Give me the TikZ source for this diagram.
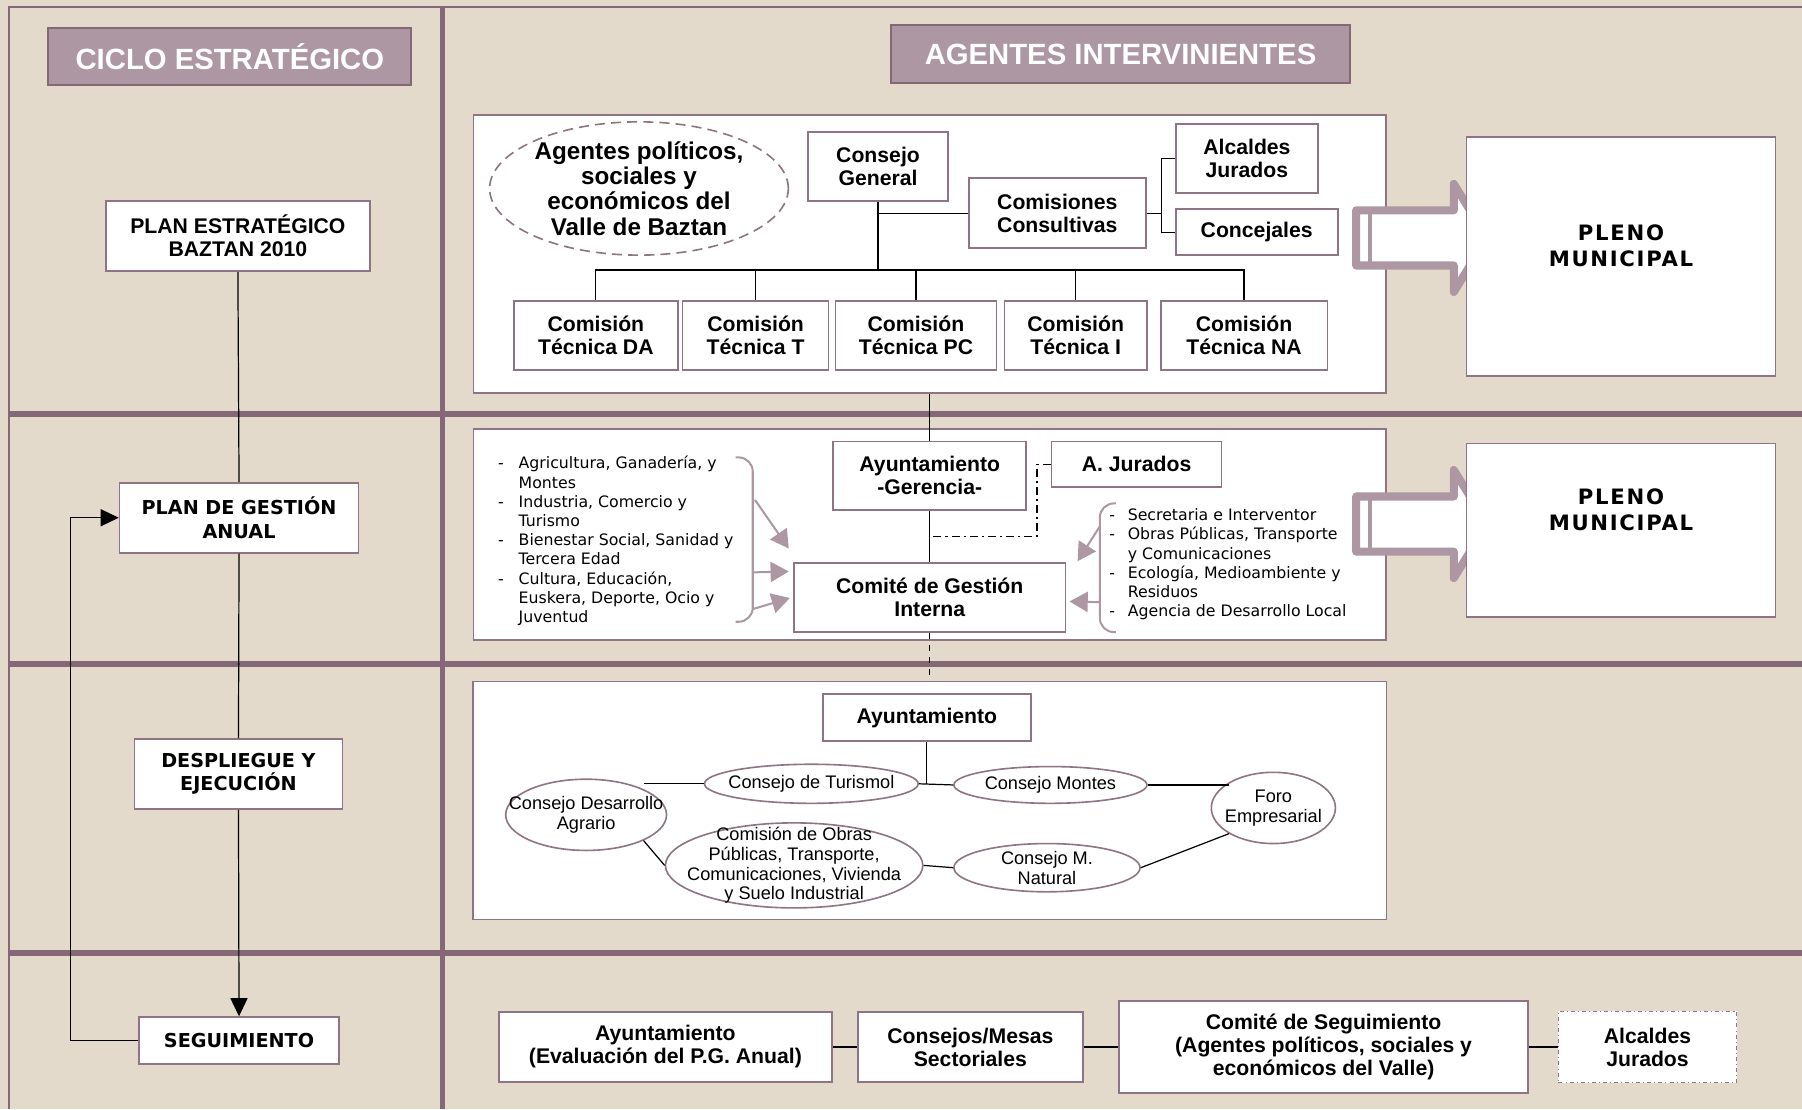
\documentclass[tikz,border=0pt]{standalone}
\usepackage{fontspec}
\setmainfont{Liberation Sans}
\newfontfamily\verdana{DejaVu Sans}
\newfontfamily\verdanaancha[LetterSpace=8]{DejaVu Sans}
\usepackage{tikz}
\usetikzlibrary{positioning, shapes.geometric, arrows.meta, calc}
\definecolor{fondo}{HTML}{E4DACB}
\definecolor{malva}{HTML}{846878}
\definecolor{malvaclara}{HTML}{AD97A2}
\definecolor{bordecaja}{HTML}{8E7484}
\tikzset{
	divider/.style={draw=malva, line width=2.8pt},
	conn/.style={draw=black, line width=0.6pt},
	arrow/.style={conn, -{Triangle[length=9pt, width=8.5pt]}},
	softarrow/.style={draw=malvaclara, line width=1pt, -{Triangle[length=9pt, width=10pt]}},
	bracket/.style={draw=malvaclara, line width=1pt, rounded corners=7pt}
}

\begin{document}
\begin{tikzpicture}[
		x=0.02cm, y=-0.02cm,
		box/.style={draw=bordecaja, fill=white, line width=0.8pt, align=center, inner sep=1pt, font=\fontsize{10.5}{11.4}\selectfont\bfseries},
		stagebox/.style={box, font=\verdana\fontsize{9.5}{11.4}\selectfont\bfseries},
		headbox/.style={draw=malva, fill=malvaclara, line width=1pt, text=white, minimum height=1cm, font=\fontsize{14.5}{17}\selectfont\bfseries},
		panel/.style={draw=bordecaja, fill=white, line width=0.8pt, inner sep=0pt},
		oval/.style={ellipse, draw=bordecaja, fill=white, line width=0.8pt, inner sep=-30pt, align=center, font=\fontsize{9}{9.8}\selectfont},
		plenotext/.style={align=center, font=\verdanaancha\fontsize{10.5}{12.8}\selectfont\bfseries},
		listtext/.style={anchor=north west, inner sep=0pt, font=\verdana\fontsize{7.8}{9.5}\selectfont},
		bigarrow/.style={draw=malvaclara, fill=white, line width=4pt, line join=round},
		dashdot/.style={conn, dash pattern=on 4pt off 2pt on 1pt off 2pt}
		]
		\useasboundingbox (0,0) rectangle (1568,965);
		\fill[fondo] (0,0) rectangle (1568,965);
		
		% marco y divisiones
		\draw[malva, line width=1.2pt] (8,965) -- (8,6) -- (1568,6);
		\draw[divider] (385,6) -- (385,965);
		\foreach \y in {360,578,829}
		\draw[divider] (8,\y) -- (1568,\y);
		
		\node[headbox, minimum width=6.32cm] (ciclo) at (200,49) {CICLO ESTRATÉGICO};
		\node[headbox, minimum width=8cm] (agint) at (975,47) {AGENTES INTERVINIENTES};
		
		% ciclo estrategico
		\node[box, minimum width=4.6cm, minimum height=1.22cm] (pe) at (207,205.5) {PLAN ESTRATÉGICO\\ BAZTAN 2010};
		\node[stagebox, minimum width=4.16cm, minimum height=1.22cm] (pga) at (208,450.5) {PLAN DE GESTIÓN\\ANUAL};
		\node[stagebox, minimum width=3.62cm, minimum height=1.22cm] (dye) at (207.5,673.5) {DESPLIEGUE Y\\ EJECUCIÓN};
		\node[stagebox, minimum width=3.48cm, minimum height=0.82cm] (seg) at (208,905.5) {SEGUIMIENTO};
		
		\draw[conn] (pe.south) -- (pga.north);
		\draw[conn] (pga.south) -- (dye.north);
		\draw[arrow] (dye.south) -- (seg.north);
		\draw[arrow] (seg.west) -- ++(-59,0) |- (pga.west);
		
		% paneles
		\node[panel, minimum width=15.88cm, minimum height=4.84cm] (panelA) at (809,221) {};
		\node[panel, minimum width=15.88cm, minimum height=3.68cm] (panelB) at (809,465) {};
		\node[panel, minimum width=15.9cm, minimum height=4.14cm] (panelC) at (809,696.5) {};
		
		% organos
		\node[oval, dash pattern=on 5pt off 3pt, minimum width=5.2cm, minimum height=2.32cm, font=\fontsize{12}{12.6}\selectfont\bfseries] (agentes) at (556,164) {Agentes políticos,\\sociales y\\económicos del\\Valle de Baztan};
		\node[box, minimum width=2.44cm, minimum height=1.2cm] (cg) at (764,145) {Consejo\\General};
		\node[box, minimum width=3.08cm, minimum height=1.22cm] (cc) at (920,185.5) {Comisiones\\Consultivas};
		\node[box, minimum width=2.48cm, minimum height=1.2cm] (alc) at (1085,138) {Alcaldes\\Jurados};
		\node[box, minimum width=2.82cm, minimum height=0.8cm] (conc) at (1093.5,202) {Concejales};
		
		\node[box, minimum width=2.86cm, minimum height=1.2cm] (ctda) at (518.5,292) {Comisión\\Técnica DA};
		\node[box, minimum width=2.54cm, minimum height=1.2cm] (ctt) at (657.5,292) {Comisión\\Técnica T};
		\node[box, minimum width=2.8cm, minimum height=1.2cm] (ctpc) at (797,292) {Comisión\\Técnica PC};
		\node[box, minimum width=2.48cm, minimum height=1.2cm] (cti) at (936,292) {Comisión\\Técnica I};
		\node[box, minimum width=2.9cm, minimum height=1.2cm] (ctna) at (1082.5,292) {Comisión\\Técnica NA};
		
		\coordinate (bus) at (764,235);
		\draw[conn] (cg.south) -- (bus);
		\draw[conn] (ctda.north) |- (bus) -| (ctna.north);
		\foreach \c in {ctt, ctpc, cti}
		\draw[conn] (\c.north) -- (\c.north |- bus);
		\draw[conn] (cc.west) -- (cc.west -| cg.south);
		\draw[conn] (cc.east) -- ++(13,0) coordinate (rama) |- (alc.west);
		\draw[conn] (rama) |- (conc.west);
		
		% gestion anual
		\node[box, minimum width=3.36cm, minimum height=1.2cm] (ayg) at (809,414) {Ayuntamiento\\-Gerencia-};
		\node[box, minimum width=2.96cm, minimum height=0.8cm] (ajur) at (989,404) {A. Jurados};
		\node[box, minimum width=4.72cm, minimum height=1.2cm] (cgi) at (809,520) {Comité de Gestión\\Interna};
		
		\draw[conn] (panelA.south) -- (ayg.north);
		\draw[conn] (ayg.south) -- (cgi.north);
		\draw[dashdot] (ajur.west) -- ++(-12,0) |- ($(ayg.south)!0.5!(cgi.north)$);
		
		\node[listtext] (listaizq) at (433,396) {\begin{tabular}{@{}p{0.36cm}@{}l@{}}
				-& Agricultura, Ganadería, y\\ & Montes\\
				-& Industria, Comercio y\\ & Turismo\\
				-& Bienestar Social, Sanidad y\\ & Tercera Edad\\
				-& Cultura, Educación,\\ & Euskera, Deporte, Ocio y\\ & Juventud
		\end{tabular}};
		\node[listtext] (listader) at (965,441) {\begin{tabular}{@{}p{0.32cm}@{}l@{}}
				-& Secretaria e Interventor\\
				-& Obras Públicas, Transporte\\ & y Comunicaciones\\
				-& Ecología, Medioambiente y\\ & Residuos\\
				-& Agencia de Desarrollo Local
		\end{tabular}};
		
		\draw[bracket] (640,398) -| (655,470) |- (640,541);
		\draw[bracket] (971,438) -| (957,494) |- (971,550);
		\coordinate (bi1) at (657,435);
		\coordinate (bi2) at (656,498);
		\coordinate (bi3) at (655,530);
		\coordinate (bd1) at (957,458);
		\coordinate (bd2) at (957,524);
		\draw[softarrow] (bi1) -- ([shift={(-4,-12)}]cgi.north west);
		\draw[softarrow] (bi2) -- ([shift={(-4,8)}]cgi.north west);
		\draw[softarrow] (bi3) -- ([shift={(-3,31)}]cgi.north west);
		\draw[softarrow] (bd1) -- ([shift={(10,-1)}]cgi.north east);
		\draw[softarrow] (bd2) -- ([shift={(3,34)}]cgi.north east);
		
		% pleno municipal
		\foreach \yc in {207,456} {
			\draw[bigarrow] (1180,\yc-24) -- (1265,\yc-24) -- (1265,\yc-47) -- (1294,\yc)
			-- (1265,\yc+47) -- (1265,\yc+24) -- (1180,\yc+24) -- cycle;
			\draw[malvaclara, line width=2pt] (1192,\yc-23) -- (1192,\yc+23);
		}
		\node[panel, minimum width=5.38cm, minimum height=4.16cm] (pleno1) at (1410.5,223) {};
		\node[plenotext] (pleno1txt) at ([yshift=5pt]pleno1.center) {PLENO\\MUNICIPAL};
		\node[panel, minimum width=5.38cm, minimum height=3.02cm] (pleno2) at (1410.5,461.5) {};
		\node[plenotext] (pleno2txt) at ([yshift=10pt]pleno2.center) {PLENO\\MUNICIPAL};
		
		% despliegue
		\node[box, minimum width=3.62cm, minimum height=0.82cm] (ayun) at (806.5,624.5) {Ayuntamiento};
		\node[oval, minimum width=3.72cm, minimum height=0.68cm] (tur) at (706,682) {Consejo de Turismol};
		\node[oval, minimum width=3.36cm, minimum height=0.64cm] (mon) at (914,683) {Consejo Montes};
		\node[oval, minimum width=2.8cm, minimum height=1.24cm] (dea) at (510,709) {Consejo Desarrollo\\Agrario};
		\node[oval, minimum width=2.16cm, minimum height=1.24cm] (foro) at (1108,703) {Foro\\Empresarial};
		\node[oval, minimum width=4.48cm, minimum height=1.48cm] (obr) at (691,753) {Comisión de Obras\\Públicas, Transporte,\\Comunicaciones, Vivienda\\y Suelo Industrial};
		\node[oval, minimum width=3.24cm, minimum height=0.84cm] (nat) at (911,755) {Consejo M.\\Natural};
		
		\draw[dashed, conn] (cgi.south) -- (panelC.north);
		\draw[conn] (ayun.south) -- (ayun.south |- tur.east);
		\draw[conn] (tur.east) -- (mon.west);
		\draw[conn] (tur.west) -- (tur.west -| dea.north east);
		\draw[conn] (mon.east) -- (mon.east -| foro.north west);
		\draw[conn] (foro.south west) -- (nat.east);
		\draw[conn] (obr.east) -- (nat.west);
		\draw[conn] (dea.south east) -- (obr.west);
		
		% seguimiento
		\node[box, minimum width=5.8cm, minimum height=1.22cm] (ev) at (579,911) {Ayuntamiento\\(Evaluación del P.G. Anual)};
		\node[box, minimum width=3.92cm, minimum height=1.22cm, right=0.42cm of ev] (cms) {Consejos/Mesas\\Sectoriales};
		\node[box, minimum width=7.12cm, minimum height=1.6cm, right=0.6cm of cms] (cs) {Comité de Seguimiento\\(Agentes políticos, sociales y\\económicos del Valle)};
		\node[box, minimum width=3.1cm, minimum height=1.24cm, right=0.5cm of cs, dash pattern=on 2pt off 1.5pt on 0.5pt off 1.5pt] (alj) {Alcaldes\\Jurados};
		
		\draw[conn] (ev.east) -- (cms.west);
		\draw[conn] (cms.east) -- (cs.west);
		\draw[conn] (cs.east) -- (alj.west);
	\end{tikzpicture}
\end{document}
